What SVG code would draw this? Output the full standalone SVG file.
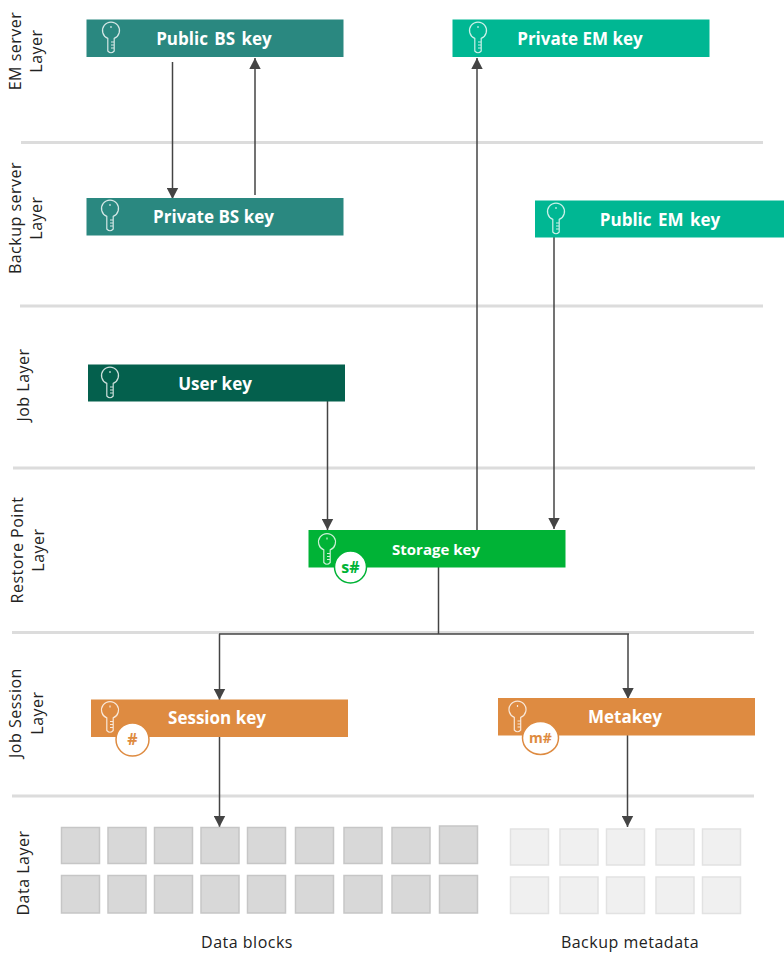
<svg xmlns="http://www.w3.org/2000/svg" width="784" height="953" viewBox="0 0 784 953">
<defs>
<marker id="arr" markerUnits="userSpaceOnUse" markerWidth="12" markerHeight="12" refX="11" refY="6" orient="auto"><path d="M0,0.3 L11,6 L0,11.7 Z" fill="#444"/></marker>
<g id="key"><path d="M-3.2,7.4 A8.500,8.500 0 1 1 3.2,7.4 V20 Q0,23.500 -3.200,20 Z M3.200,11 H0 M3.200,14 H0 M3.200,17 H0 M0,-5 V-3" fill="none" stroke="#fff" stroke-opacity="0.8" stroke-width="1.2"/></g>
</defs>
<style>
text{font-family:"Open Sans","DejaVu Sans",sans-serif}
.sep{stroke:#dcdcdc;stroke-width:3;fill:none}
.c{stroke:#444;stroke-width:1.5;fill:none}
.t{fill:#fff;font-weight:700;font-size:17px;text-anchor:middle}
.l{fill:#222;font-size:16px;letter-spacing:.5px;text-anchor:middle}
.b{font-weight:700;font-size:16px;text-anchor:middle}
.d{fill:#d8d8d8;stroke:#c6c6c6;stroke-width:1.5}
.m{fill:#f0f0f0;stroke:#e2e2e2;stroke-width:1.5}
.teal{fill:#2a8880}.em{fill:#00b793}.dk{fill:#04604d}.gr{fill:#00b336}.or{fill:#de8b41}
.bd{fill:#fff;stroke-width:1.5}
</style>
<g id="separators">
<path class="sep" d="M21,142.500H763M20,306H763M13,468H755M12,632.500H754M12,796H754"/>
</g>
<g id="layer-labels">
<text class="l" transform="translate(21,51) rotate(-90)">EM server</text>
<text class="l" transform="translate(42,51) rotate(-90)">Layer</text>
<text class="l" transform="translate(21,218) rotate(-90)">Backup server</text>
<text class="l" transform="translate(42,218) rotate(-90)">Layer</text>
<text class="l" transform="translate(29,385) rotate(-90)">Job Layer</text>
<text class="l" transform="translate(23,550) rotate(-90)">Restore Point</text>
<text class="l" transform="translate(44,550) rotate(-90)">Layer</text>
<text class="l" transform="translate(21,713) rotate(-90)">Job Session</text>
<text class="l" transform="translate(43,713) rotate(-90)">Layer</text>
<text class="l" transform="translate(29,873) rotate(-90)">Data Layer</text>
</g>
<g id="connectors">
<path class="c" marker-end="url(#arr)" d="M172.500,62V199"/>
<path class="c" marker-end="url(#arr)" d="M255,195V58"/>
<path class="c" marker-end="url(#arr)" d="M477,530V58"/>
<path class="c" marker-end="url(#arr)" d="M554,237V529"/>
<path class="c" marker-end="url(#arr)" d="M327.500,401V530"/>
<path class="c" d="M438.500,567V634"/>
<path class="c" marker-end="url(#arr)" d="M219.500,634V700"/>
<path class="c" marker-end="url(#arr)" d="M628,634V699"/>
<path class="c" d="M219,634H629"/>
<path class="c" marker-end="url(#arr)" d="M219.500,737V827"/>
<path class="c" marker-end="url(#arr)" d="M627.500,735V827"/>
</g>
<g id="public-bs-key"><rect class="teal" x="86.500" y="19.500" width="257" height="37.500"/><use href="#key" x="111" y="31"/><text class="t" x="214" y="44.500" word-spacing="2">Public BS key</text></g>
<g id="private-bs-key"><rect class="teal" x="86.500" y="198" width="257" height="37.500"/><use href="#key" x="110" y="209"/><text class="t" x="213.500" y="223">Private BS key</text></g>
<g id="private-em-key"><rect class="em" x="452.500" y="19.500" width="257" height="37.500"/><use href="#key" x="478" y="31"/><text class="t" x="580" y="44.500">Private EM key</text></g>
<g id="public-em-key"><rect class="em" x="535" y="200.500" width="249" height="37"/><use href="#key" x="556" y="212"/><text class="t" x="660" y="226" word-spacing="2">Public EM key</text></g>
<g id="user-key"><rect class="dk" x="88" y="364.500" width="257" height="37"/><use href="#key" x="110" y="376"/><text class="t" x="215" y="390">User key</text></g>
<g id="storage-key"><rect class="gr" x="308.500" y="530" width="257" height="37.500"/><use href="#key" x="327" y="542.500"/><circle class="bd" cx="350.500" cy="567" r="16" stroke="#00b336"/><text class="b" x="350.500" y="572.500" fill="#00b336">s#</text><text class="t" x="436" y="555" style="font-size:15px">Storage key</text></g>
<g id="session-key"><rect class="or" x="91" y="699.500" width="257" height="37.500"/><use href="#key" x="110" y="710.500"/><circle class="bd" cx="132.500" cy="739.500" r="16.500" stroke="#de8b41"/><text class="b" x="132.500" y="745" fill="#de8b41">#</text><text class="t" x="217" y="724">Session key</text></g>
<g id="metakey"><rect class="or" x="498" y="698" width="257" height="37.500"/><use href="#key" x="517.500" y="710"/><ellipse class="bd" cx="540.500" cy="738" rx="18" ry="16.500" stroke="#de8b41"/><text class="b" x="540.500" y="743" fill="#de8b41" style="font-size:14px">m#</text><text class="t" x="625" y="723">Metakey</text></g>
<g id="data-blocks">
<rect class="d" x="61.500" y="827.500" width="38" height="36"/><rect class="d" x="108" y="827.500" width="38" height="36"/><rect class="d" x="154.500" y="827.500" width="38" height="36"/><rect class="d" x="201" y="827.500" width="38" height="36"/><rect class="d" x="247.500" y="827.500" width="38" height="36"/><rect class="d" x="295.500" y="827.500" width="38" height="36"/><rect class="d" x="344" y="827.500" width="38" height="36"/><rect class="d" x="392" y="827.500" width="38" height="36"/><rect class="d" x="439.500" y="826" width="38" height="37.500"/>
<rect class="d" x="61.500" y="875.500" width="38" height="37.500"/><rect class="d" x="108" y="875.500" width="38" height="37.500"/><rect class="d" x="154.500" y="875.500" width="38" height="37.500"/><rect class="d" x="201" y="875.500" width="38" height="37.500"/><rect class="d" x="247.500" y="875.500" width="38" height="37.500"/><rect class="d" x="295.500" y="875.500" width="38" height="37.500"/><rect class="d" x="344" y="875.500" width="38" height="37.500"/><rect class="d" x="392" y="875.500" width="38" height="37.500"/><rect class="d" x="439.500" y="875.500" width="38" height="37.500"/>
<text class="l" x="247" y="948">Data blocks</text>
</g>
<g id="backup-metadata">
<rect class="m" x="510.500" y="829" width="38" height="36"/><rect class="m" x="560" y="829" width="38" height="36"/><rect class="m" x="606.500" y="829" width="38" height="36"/><rect class="m" x="656" y="829" width="38" height="36"/><rect class="m" x="702.500" y="829" width="38" height="36"/>
<rect class="m" x="510.500" y="877" width="38" height="36.500"/><rect class="m" x="560" y="877" width="38" height="36.500"/><rect class="m" x="606.500" y="877" width="38" height="36.500"/><rect class="m" x="656" y="877" width="38" height="36.500"/><rect class="m" x="702.500" y="877" width="38" height="36.500"/>
<text class="l" x="630" y="948">Backup metadata</text>
</g>
</svg>
